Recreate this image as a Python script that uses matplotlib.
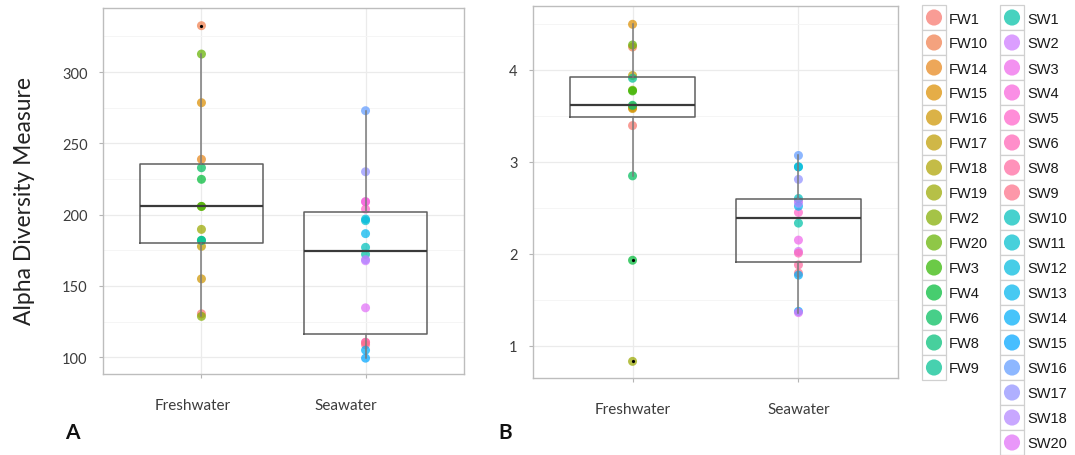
import numpy as np
import matplotlib
matplotlib.use("Agg")
import matplotlib.pyplot as plt
from matplotlib.patches import Rectangle
from matplotlib.transforms import ScaledTranslation

# ---------------- data ----------------
groups = ["Freshwater", "Seawater"]
fw_samples = ["FW1", "FW10", "FW14", "FW15", "FW16", "FW17", "FW18", "FW19",
              "FW2", "FW20", "FW3", "FW4", "FW6", "FW8", "FW9"]
sw_samples = ["SW1", "SW2", "SW3", "SW4", "SW5", "SW6", "SW8", "SW9", "SW10",
              "SW11", "SW12", "SW13", "SW14", "SW15", "SW16", "SW17", "SW18", "SW20"]

# Panel A (values in fw_samples / sw_samples order)
fw_a = [130.5, 332.5, 238.8, 278.5, 155.0, 177.8, 205.8, 189.7,
        128.7, 312.6, 205.8, 224.8, 232.9, 182.0, 182.0]
sw_a = [172.2, 167.7, 209.1, 209.1, 203.9, 110.5, 110.5, 108.8, 177.1,
        195.8, 196.9, 186.7, 105.0, 99.4, 272.9, 230.1, 168.5, 134.7]

# Panel B
fw_b = [3.395, 4.25, 3.59, 4.497, 3.58, 3.94, 3.61, 0.83,
        3.78, 4.272, 3.772, 1.93, 2.848, 3.616, 3.91]
sw_b = [2.334, 2.026, 2.149, 2.575, 2.45, 2.008, 1.88, 1.79, 2.602,
        2.946, 2.946, 2.518, 1.768, 1.374, 3.07, 2.81, 2.551, 1.36]

yticks_a = [100, 150, 200, 250, 300]
yticks_b = [1, 2, 3, 4]
ylim_a = (88.3, 344.9)
ylim_b = (0.649, 4.696)
ylabel = "Alpha Diversity Measure"
panel_labels = ["A", "B"]


# ------------- ggplot-like hue palette -------------
def hcl_to_hex(h, c=100.0, l=65.0):
    hr = np.deg2rad(h)
    u, v = c * np.cos(hr), c * np.sin(hr)
    Xn, Yn, Zn = 95.047, 100.0, 108.883
    un = 4 * Xn / (Xn + 15 * Yn + 3 * Zn)
    vn = 9 * Yn / (Xn + 15 * Yn + 3 * Zn)
    Y = Yn * ((l + 16) / 116) ** 3
    up = u / (13 * l) + un
    vp = v / (13 * l) + vn
    X = Y * 9 * up / (4 * vp)
    Z = Y * (12 - 3 * up - 20 * vp) / (4 * vp)
    X, Y, Z = X / 100, Y / 100, Z / 100
    r = 3.2404542 * X - 1.5371385 * Y - 0.4985314 * Z
    g = -0.9692660 * X + 1.8760108 * Y + 0.0415560 * Z
    b = 0.0556434 * X - 0.2040259 * Y + 1.0572252 * Z
    out = []
    for ch in (r, g, b):
        ch = 12.92 * ch if ch <= 0.0031308 else 1.055 * ch ** (1 / 2.4) - 0.055
        out.append(min(max(ch, 0), 1))
    return tuple(out)


all_samples = sorted(fw_samples + sw_samples)
n = len(all_samples)
hues = np.linspace(15, 375, n + 1)[:n]
color_of = {s: hcl_to_hex(h) for s, h in zip(all_samples, hues)}

# ---------------- figure ----------------
plt.rcParams["font.family"] = ["Lato", "DejaVu Sans"]
fig = plt.figure(figsize=(10.75, 4.56), dpi=100)

axA = fig.add_axes([103 / 1075, 1 - 375 / 456, 361 / 1075, 366 / 456])
axB = fig.add_axes([533 / 1075, 1 - 379 / 456, 365 / 1075, 372 / 456])

PT_ALPHA = 0.72


def draw_panel(ax, fw, sw, yticks, ylim):
    ax.set_xlim(0.4, 2.6)
    ax.set_ylim(*ylim)
    # points
    for xpos, names, vals in ((1, fw_samples, fw), (2, sw_samples, sw)):
        ax.scatter([xpos] * len(vals), vals, s=42,
                   c=[color_of[s] for s in names], alpha=PT_ALPHA,
                   edgecolors="none", zorder=3)
    # boxes
    ax.boxplot([fw, sw], positions=[1, 2], widths=0.75, whis=1.5,
               showcaps=False, patch_artist=False, manage_ticks=False,
               boxprops=dict(color="#5f5f5f", linewidth=1.1),
               whiskerprops=dict(color="#7a7a7a", linewidth=1.1),
               medianprops=dict(color="#3a3a3a", linewidth=1.6),
               flierprops=dict(marker="o", markersize=2.3,
                               markerfacecolor="black", markeredgecolor="none"),
               zorder=4)
    ax.set_xticks([1, 2])
    ax.set_xticklabels(groups)
    ax.set_yticks(yticks)
    minors = [(yticks[i] + yticks[i + 1]) / 2 for i in range(len(yticks) - 1)]
    step = yticks[1] - yticks[0]
    for extra in (yticks[0] - step / 2, yticks[-1] + step / 2):
        if ylim[0] < extra < ylim[1]:
            minors.append(extra)
    ax.set_yticks(sorted(minors), minor=True)
    ax.grid(True, which="major", color="#ebebeb", linewidth=0.9, zorder=0)
    ax.grid(True, which="minor", axis="y", color="#f5f5f5", linewidth=0.7, zorder=0)
    ax.set_axisbelow(True)
    for sp in ax.spines.values():
        sp.set_color("#bdbdbd")
        sp.set_linewidth(1.0)
    ax.tick_params(axis="both", which="major", color="#b5b5b5", length=3,
                   width=0.8, labelcolor="#3c3c3c")
    ax.tick_params(axis="y", which="major", labelsize=10.5, pad=8)
    ax.tick_params(axis="x", which="major", labelsize=11, pad=14)
    ax.tick_params(which="minor", length=0)


draw_panel(axA, fw_a, sw_a, yticks_a, ylim_a)
draw_panel(axB, fw_b, sw_b, yticks_b, ylim_b)

# shift panel A category labels slightly left like the reference
for lab, dx in zip(axA.get_xticklabels(), (-9, -20)):
    lab.set_transform(lab.get_transform() + ScaledTranslation(dx / 100, 0, fig.dpi_scale_trans))

fig.text(25 / 1075, 1 - 201 / 456, ylabel, rotation=90, ha="center", va="center",
         fontsize=16.5, color="#222222")
fig.text(72 / 1075, 1 - 433 / 456, panel_labels[0], ha="center", va="center",
         fontsize=15, fontweight="bold", color="#111111")
fig.text(505 / 1075, 1 - 433 / 456, panel_labels[1], ha="center", va="center",
         fontsize=15, fontweight="bold", color="#111111")

# ---------------- legend (two columns) ----------------
lg = fig.add_axes([915 / 1075, 0, 160 / 1075, 1])
lg.set_xlim(915, 1075)
lg.set_ylim(456, 0)
lg.axis("off")
ROW = 25
TOP = 6
for names, kx in ((fw_samples, 922), (sw_samples, 1000)):
    for i, s in enumerate(names):
        y0 = TOP + i * ROW
        lg.add_patch(Rectangle((kx, y0), 24, ROW, facecolor="white",
                               edgecolor="#d0d0d0", linewidth=0.9, zorder=1))
        lg.scatter([kx + 12], [y0 + ROW / 2], s=135, color=color_of[s],
                   alpha=PT_ALPHA, edgecolors="none", zorder=2)
        lg.text(kx + 27, y0 + ROW / 2 + 1, s, ha="left", va="center",
                fontsize=10.5, family=["Liberation Sans", "DejaVu Sans"],
                color="#1a1a1a")

fig.savefig("out.png", dpi=100, facecolor="white")
